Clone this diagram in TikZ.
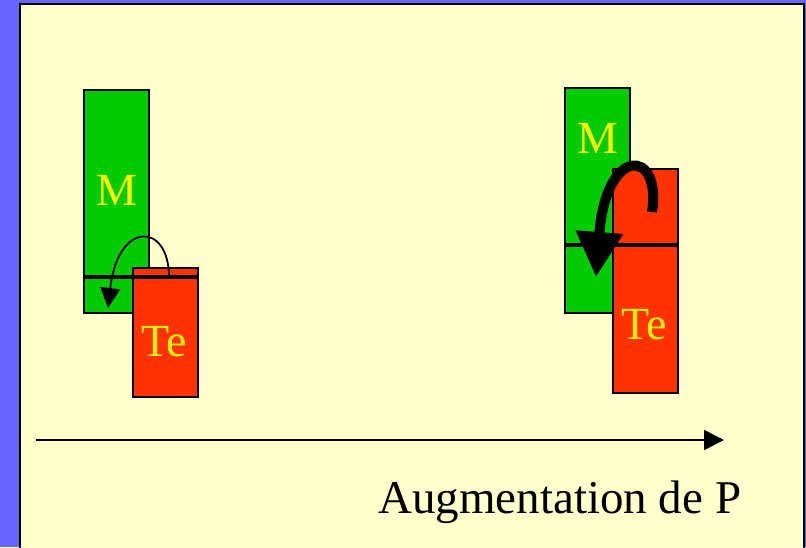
\documentclass[tikz,border=0pt]{standalone}
\usepackage{fontspec}
\setmainfont{Liberation Serif}
\usepackage{tikz}
\usetikzlibrary{arrows.meta,positioning,calc}
\definecolor{slideblue}{HTML}{6666FF}
\definecolor{slideyellow}{HTML}{FFFFCC}
\definecolor{mgreen}{HTML}{00CC00}
\definecolor{tered}{HTML}{FF3300}
\tikzset{
  phase/.style={rectangle,draw,line width=1.5pt,inner sep=0pt,anchor=north west,
    minimum width=65pt},
  mphase/.style={phase,fill=mgreen},
  tphase/.style={phase,fill=tered},
  lbl/.style={text=yellow,font=\fontsize{46}{46}\selectfont,inner sep=0pt},
  level/.style={line width=4pt},
  arrow/.style={-{Triangle[length=20pt,width=20pt]},line width=1.8pt},
  bigarrow/.style={-{Triangle[length=45pt,width=45pt]},line width=10pt},
}

\begin{document}
\begin{tikzpicture}[x=1pt,y=-1pt]
\useasboundingbox (0,0) rectangle (806,547);
% slide background
\fill[slideblue] (0,0) rectangle (806,547);
\begin{scope}
\clip (0,0) rectangle (806,547);
\draw[fill=slideyellow,line width=1.5pt] (20,4) rectangle (804,560);
\end{scope}

% low pressure
\node[mphase,minimum height=223pt] (m1) at (83,89) {};
\node[tphase,minimum height=129pt] (te1) at (132,267) {};
\node[lbl] (m1txt) at (117,190) {M};
\node[lbl] (te1txt) at (164,342) {Te};
\coordinate (lvl1) at (0,277);
\draw[level] (m1.west |- lvl1) -- (te1.east |- lvl1);
\coordinate (s1) at (169,277);
\coordinate (e1) at (108,308);
\draw[arrow] (s1) .. controls (169,222) and (118,220) .. (e1);

% high pressure
\node[mphase,minimum height=225pt] (m2) at (564,87) {};
\node[tphase,minimum height=224pt] (te2) at (612,168) {};
\node[lbl] (m2txt) at (598,138) {M};
\node[lbl] (te2txt) at (644,325) {Te};
\coordinate (lvl2) at (0,245);
\draw[level] (m2.west |- lvl2) -- (te2.east |- lvl2);
\coordinate (s2) at (652,212);
\coordinate (e2) at (596,277);
\draw[bigarrow] (s2) .. controls (662,148) and (606,145) .. (e2);

% pressure axis
\coordinate (pstart) at (36,440);
\coordinate (pend) at (724,440);
\draw[arrow] (pstart) -- (pend);
\node[anchor=base west,inner sep=0pt,font=\fontsize{47}{47}\selectfont] (ptxt) at (378,513) {Augmentation de P};
\end{tikzpicture}
\end{document}
